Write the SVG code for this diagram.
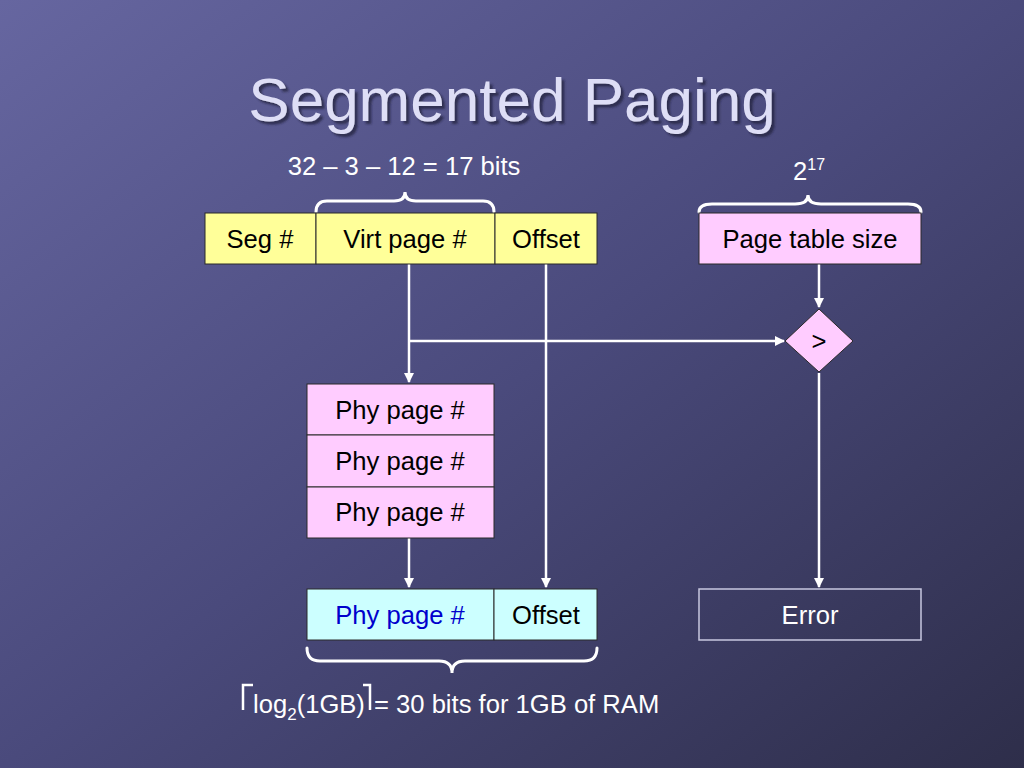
<svg xmlns="http://www.w3.org/2000/svg" width="1024" height="768" viewBox="0 0 1024 768">
<defs>
<linearGradient id="bg" x1="0" y1="0" x2="1" y2="1">
<stop offset="0" stop-color="#6666a0"/>
<stop offset="0.5" stop-color="#4a4a7c"/>
<stop offset="1" stop-color="#2e2e4a"/>
</linearGradient>
<filter id="shadow" x="-10%" y="-20%" width="120%" height="150%">
<feDropShadow dx="3" dy="3" stdDeviation="0.8" flood-color="#24243e" flood-opacity="0.75"/>
</filter>
<marker id="arr" viewBox="0 0 10 10" refX="9" refY="5" markerWidth="4" markerHeight="4" orient="auto" markerUnits="strokeWidth">
<path d="M0,0 L10,5 L0,10 z" fill="#ffffff"/>
</marker>
<style>
.t{font-family:"Liberation Sans",Arial,sans-serif;font-size:25.6px;}
.c{text-anchor:middle;}
.w{fill:#ffffff;}
.k{fill:#000000;}
.box{stroke:#2a2a2a;stroke-width:1;}
.yel{fill:#ffff99;}
.pink{fill:#ffccff;}
.cyan{fill:#ccffff;}
.con{stroke:#ffffff;stroke-width:2.5;fill:none;}
.brace{stroke:#ffffff;stroke-width:3;fill:none;stroke-linecap:round;}
</style>
</defs>
<rect width="1024" height="768" fill="url(#bg)"/>

<g id="title">
<text x="512" y="121" class="c" font-family="Liberation Sans,Arial,sans-serif" font-size="62" fill="#dedef6" filter="url(#shadow)">Segmented Paging</text>
</g>

<g id="labels">
<text x="404" y="175" class="t c w">32 – 3 – 12 = 17 bits</text>
<text x="793" y="180" class="t w">2<tspan font-size="16" dy="-10">17</tspan></text>
<path class="brace" d="M316,212 Q316,201 327,201 L394,201 Q405,201 405,192 Q405,201 416,201 L483,201 Q494,201 494,212"/>
<path class="brace" d="M699,212 Q699,204 712,204 L795,204 Q808,204 808,195 Q808,204 821,204 L908,204 Q921,204 921,212"/>
<path class="brace" d="M307,648 Q307,661 320,661 L439,661 Q452,661 452,673 Q452,661 465,661 L584,661 Q597,661 597,648"/>
<polyline points="243,710 243,685 253,685" fill="none" stroke="#ffffff" stroke-width="2.5"/>
<polyline points="363,685 370,685 370,710" fill="none" stroke="#ffffff" stroke-width="2.5"/>
<text x="253" y="713" class="t w">log<tspan font-size="17" dy="7">2</tspan><tspan dy="-7">(1GB)</tspan></text>
<text x="374" y="713" class="t w" font-size="26">= 30 bits for 1GB of RAM</text>
</g>

<g id="connectors">
<line class="con" x1="409" y1="264" x2="409" y2="382" marker-end="url(#arr)"/>
<line class="con" x1="409" y1="341" x2="784" y2="341" marker-end="url(#arr)"/>
<line class="con" x1="546" y1="264" x2="546" y2="587" marker-end="url(#arr)"/>
<line class="con" x1="819" y1="264" x2="819" y2="307" marker-end="url(#arr)"/>
<line class="con" x1="819" y1="373" x2="819" y2="587" marker-end="url(#arr)"/>
<line class="con" x1="409" y1="538" x2="409" y2="587" marker-end="url(#arr)"/>
</g>

<g id="seg">
<rect class="box yel" x="205" y="213" width="111" height="51"/>
<text x="260" y="248" class="t c k">Seg #</text>
</g>
<g id="virtpage">
<rect class="box yel" x="316" y="213" width="179" height="51"/>
<text x="405" y="248" class="t c k">Virt page #</text>
</g>
<g id="offset-top">
<rect class="box yel" x="495" y="213" width="102" height="51"/>
<text x="546" y="248" class="t c k">Offset</text>
</g>
<g id="pagetablesize">
<rect class="box pink" x="699" y="213" width="222" height="51"/>
<text x="810" y="248" class="t c k">Page table size</text>
</g>
<g id="compare">
<polygon class="box pink" points="819,309 853,341 819,372 785,341"/>
<text x="819" y="350" class="t c k">&gt;</text>
</g>
<g id="phytable">
<rect class="box pink" x="307" y="384" width="187" height="51"/>
<text x="400" y="419" class="t c k">Phy page #</text>
<rect class="box pink" x="307" y="435" width="187" height="52"/>
<text x="400" y="470" class="t c k">Phy page #</text>
<rect class="box pink" x="307" y="487" width="187" height="51"/>
<text x="400" y="521" class="t c k">Phy page #</text>
</g>
<g id="phypage-out">
<rect class="box cyan" x="307" y="589" width="187" height="51"/>
<text x="400" y="624" class="t c" fill="#0000cc">Phy page #</text>
</g>
<g id="offset-out">
<rect class="box cyan" x="494" y="589" width="103" height="51"/>
<text x="546" y="624" class="t c k">Offset</text>
</g>
<g id="error">
<rect x="699" y="589" width="222" height="51" fill="none" stroke="#c8c8e0" stroke-width="1.5"/>
<text x="810" y="624" class="t c w">Error</text>
</g>
</svg>
